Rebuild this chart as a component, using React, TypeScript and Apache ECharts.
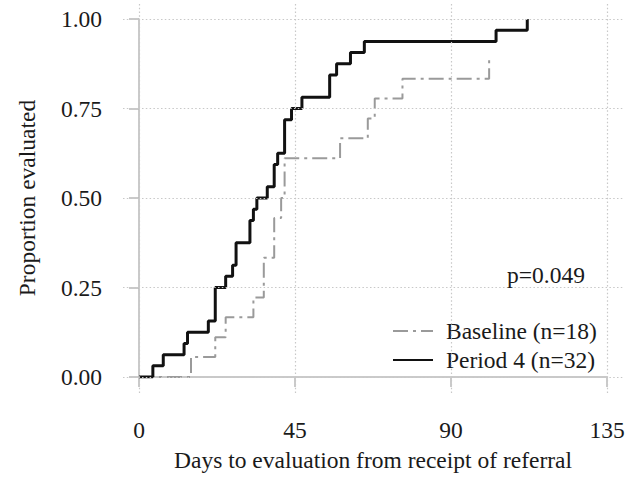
import React, { useEffect, useRef } from "react";
import * as echarts from "echarts";

const xTicks = [0, 45, 90, 135];
const yTicks = [0, 0.25, 0.5, 0.75, 1];

const seriesNames = ["Baseline (n=18)", "Period 4 (n=32)"];

const baselineN = 18;
const baselineDays = [0, 15, 22, 25, 33, 36, 39, 41, 42, 58, 66, 68, 76, 101];
const baselineEvents = [0, 1, 2, 3, 4, 6, 8, 9, 11, 12, 13, 14, 15, 16];

const period4N = 32;
const period4Days = [0, 4, 7, 13, 14, 20, 22, 25, 27, 28, 32, 33, 34, 37, 39, 40, 42, 44, 47, 55, 57, 61, 65, 103, 112];
const period4Events = [0, 1, 2, 3, 4, 5, 8, 9, 10, 12, 14, 15, 16, 17, 19, 20, 23, 24, 25, 27, 28, 29, 30, 31, 32];

const pValueText = "p=0.049";
const xTitle = "Days to evaluation from receipt of referral";
const yTitle = "Proportion evaluated";

export default function App() {
  const ref = useRef<HTMLDivElement>(null);
  useEffect(() => {
    document.body.style.margin = "0";
    const chart = echarts.init(ref.current!, null, { renderer: "svg" });
    const font = "'Liberation Serif', 'Times New Roman', serif";
    const fs = 23.5;
    const axisColor = "#b8b8b8";
    const textColor = "#1a1a1a";
    const toPts = (days: number[], ev: number[], n: number) => days.map((d, i) => [d, ev[i] / n]);

    chart.setOption({
      animation: false,
      backgroundColor: "#ffffff",
      title: {
        text: pValueText,
        left: 507,
        top: 263,
        padding: 0,
        textStyle: { fontSize: fs, fontWeight: "normal", fontFamily: font, color: textColor, lineHeight: fs },
      },
      legend: {
        data: seriesNames,
        orient: "vertical",
        left: 392,
        top: 319,
        itemWidth: 40,
        itemHeight: 14,
        itemGap: 5,
        padding: 0,
        selectedMode: false,
        itemStyle: { opacity: 0 },
        textStyle: { fontSize: fs, fontFamily: font, color: textColor, lineHeight: fs, padding: [0, 0, 0, 8] },
      },
      grid: [
        { left: 139, top: 19, right: 35, bottom: 104 },
        { left: 123, top: 3, right: 19, bottom: 88 },
      ],
      xAxis: [
        {
          type: "value",
          gridIndex: 0,
          min: 0,
          max: 135,
          interval: 45,
          offset: 18,
          axisLine: { show: true, lineStyle: { color: axisColor, width: 1.5 } },
          axisTick: { show: true, length: 10, lineStyle: { color: axisColor, width: 1.5 } },
          axisLabel: { margin: 23, fontSize: fs, fontFamily: font, color: textColor },
          splitLine: { show: false },
          name: xTitle,
          nameLocation: "middle",
          nameGap: 53,
          nameTextStyle: { fontSize: fs, fontFamily: font, color: textColor },
        },
        {
          type: "value",
          gridIndex: 1,
          min: -4.615,
          max: 139.615,
          show: false,
        },
      ],
      yAxis: [
        {
          type: "value",
          gridIndex: 0,
          min: 0,
          max: 1,
          interval: 0.25,
          offset: 18,
          axisLine: { show: true, lineStyle: { color: axisColor, width: 1.5 } },
          axisTick: { show: true, length: 10, lineStyle: { color: axisColor, width: 1.5 } },
          axisLabel: {
            margin: 19,
            fontSize: fs,
            fontFamily: font,
            color: textColor,
            formatter: (v: number) => v.toFixed(2),
          },
          splitLine: { show: false },
          name: yTitle,
          nameLocation: "middle",
          nameGap: 82,
          nameTextStyle: { fontSize: fs, fontFamily: font, color: textColor },
        },
        {
          type: "value",
          gridIndex: 1,
          min: -0.0447,
          max: 1.0447,
          show: false,
        },
      ],
      series: [
        {
          type: "line",
          name: "gridlines",
          xAxisIndex: 1,
          yAxisIndex: 1,
          data: [],
          silent: true,
          z: 1,
          markLine: {
            silent: true,
            symbol: ["none", "none"],
            label: { show: false },
            lineStyle: { color: "#c8c8c8", width: 1.2, type: [1.5, 2.3] },
            emphasis: { disabled: true },
            data: [
              ...xTicks.map((v) => ({ xAxis: v })),
              ...yTicks.map((v) => ({ yAxis: v })),
            ],
          },
        },
        {
          type: "line",
          name: seriesNames[0],
          xAxisIndex: 0,
          yAxisIndex: 0,
          step: "end",
          symbol: "none",
          data: toPts(baselineDays, baselineEvents, baselineN),
          lineStyle: { color: "#9a9a9a", width: 2, type: [15, 5, 3, 5] },
          itemStyle: { color: "#9a9a9a" },
          z: 3,
        },
        {
          type: "line",
          name: seriesNames[1],
          xAxisIndex: 0,
          yAxisIndex: 0,
          step: "end",
          symbol: "none",
          data: toPts(period4Days, period4Events, period4N),
          lineStyle: { color: "#111111", width: 3 },
          itemStyle: { color: "#111111" },
          z: 4,
        },
      ],
    });
    return () => chart.dispose();
  }, []);
  return <div ref={ref} style={{ width: 642, height: 481 }} />;
}
